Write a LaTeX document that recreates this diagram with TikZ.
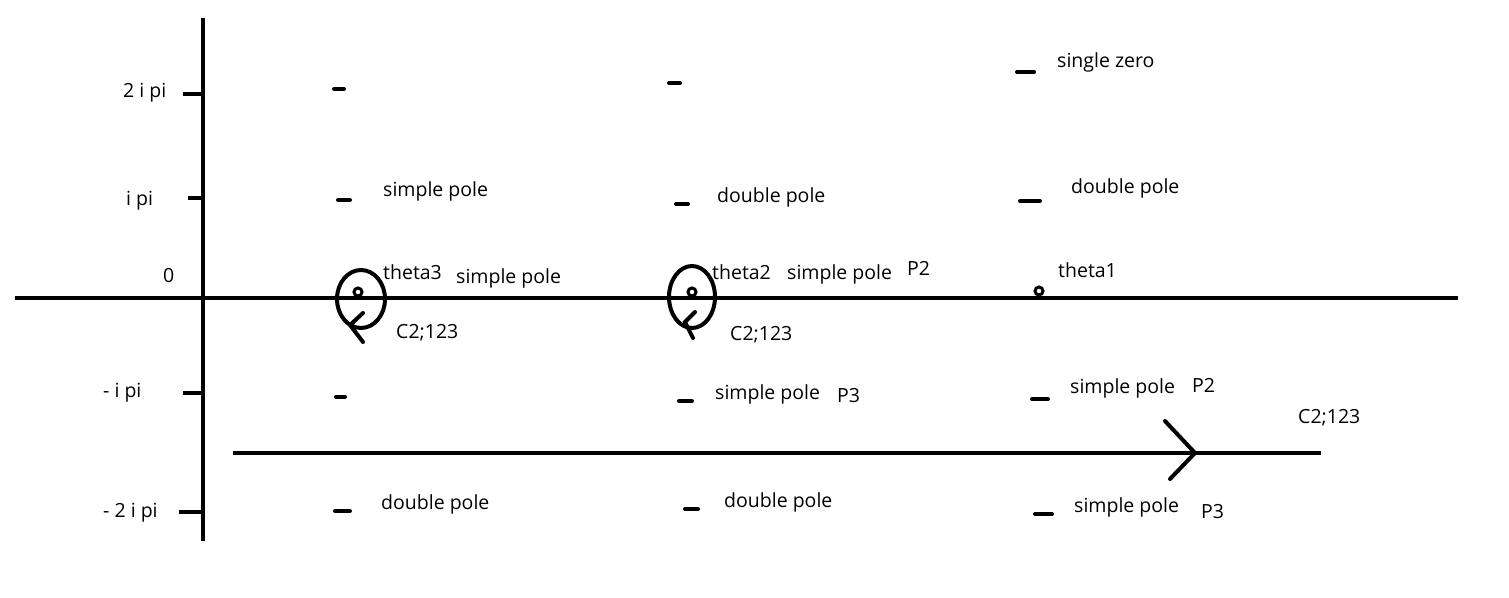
\documentclass[tikz,border=0pt]{standalone}
\usepackage{fontspec}
\setmainfont{Open Sans}
\usetikzlibrary{positioning}
\usetikzlibrary{calc}
\newcommand{\lblsize}{\fontsize{19.5}{22}\selectfont}
\tikzset{
    axis/.style={line width=4.5pt},
    tick/.style={line width=4.5pt},
    polemark/.style={line width=4pt, line cap=round},
    lbl/.style={anchor=base west, inner sep=0pt, font=\lblsize},
    loopline/.style={line width=4pt, line cap=round},
    dot/.style={line width=3pt},
}

\begin{document}
\begin{tikzpicture}[x=1pt, y=-1pt]
    \useasboundingbox (0,0) rectangle (1509,597);

    % axes
    \draw[axis] (15,298) -- (1458,298);
    \draw[axis] (203,18) -- (203,541);

    % ticks on the imaginary axis
    \draw[tick] (183,94) -- (203,94);
    \draw[tick] (188,198) -- (203,198);
    \draw[tick] (183,393) -- (203,393);
    \draw[tick] (179,512) -- (203,512);
    \node[lbl] (l-2ipi) at (123,97) {2 i pi};
    \node[lbl] (l-ipi) at (126,205) {i pi};
    \node[lbl] (l-zero) at (163,282) {0};
    \node[lbl] (l-mipi) at (103,397) {- i pi};
    \node[lbl] (l-m2ipi) at (103,517) {- 2 i pi};

    % poles and zeros
    \draw[polemark] (334,89) -- (344,89);
    \draw[polemark] (338,200) -- (350,200);
    \draw[polemark] (336,397) -- (345,397);
    \draw[polemark] (335,511) -- (350,511);

    \draw[polemark] (669,83) -- (680,83);
    \draw[polemark] (676,204) -- (688,204);
    \draw[polemark] (679,401) -- (692,401);
    \draw[polemark] (685,509) -- (698,509);

    \draw[polemark] (1017,72) -- (1034,72);
    \draw[polemark] (1020,201) -- (1040,201);
    \draw[polemark] (1032,399) -- (1048,399);
    \draw[polemark] (1035,514) -- (1052,514);

    \node[lbl] (t-sp1) at (383,196) {simple pole};
    \node[lbl] (t-dp1) at (717,202) {double pole};
    \node[lbl] (t-dp2) at (1071,193) {double pole};
    \node[lbl] (t-sz) at (1057,67) {single zero};

    \node[lbl] (t-theta3) at (383,279) {theta3};
    \node[lbl] (t-sp2) at (456,283) {simple pole};
    \node[lbl] (t-theta2) at (712,279) {theta2};
    \node[lbl] (t-sp3) at (787,279) {simple pole};
    \node[lbl] (t-p2a) at (907,275) {P2};
    \node[lbl] (t-theta1) at (1058,277) {theta1};

    \node[lbl] (t-c3) at (396,338) {C2;123};
    \node[lbl] (t-c2) at (730,340) {C2;123};

    \node[lbl] (t-sp4) at (715,399) {simple pole};
    \node[lbl] (t-p3a) at (837,402) {P3};
    \node[lbl] (t-sp5) at (1070,393) {simple pole};
    \node[lbl] (t-p2b) at (1192,392) {P2};
    \node[lbl] (t-c1) at (1298,423) {C2;123};

    \node[lbl] (t-dp3) at (381,509) {double pole};
    \node[lbl] (t-dp4) at (724,507) {double pole};
    \node[lbl] (t-sp6) at (1074,512) {simple pole};
    \node[lbl] (t-p3b) at (1201,518) {P3};

    % small loops round theta3 and theta2
    \draw[loopline] (361,299) ellipse [x radius=24, y radius=29];
    \draw[dot] (358,292) circle [radius=4];
    \draw[loopline] (363,313) -- (350,325) -- (363,342);

    \draw[loopline] (692,297) ellipse [x radius=23, y radius=31];
    \draw[dot] (692,292) circle [radius=4];
    \draw[loopline] (695,312) -- (685,322) -- (693,338);

    \draw[dot] (1039,291) circle [radius=4];

    % contour below the real axis
    \coordinate (c-start) at (233,453);
    \coordinate (c-end) at (1321,453);
    \coordinate (c-tip) at (1195,453);
    \draw[axis] (c-start) -- (c-end);
    \draw[loopline] (1165,421) -- (c-tip) -- (1170,479);
\end{tikzpicture}
\end{document}
